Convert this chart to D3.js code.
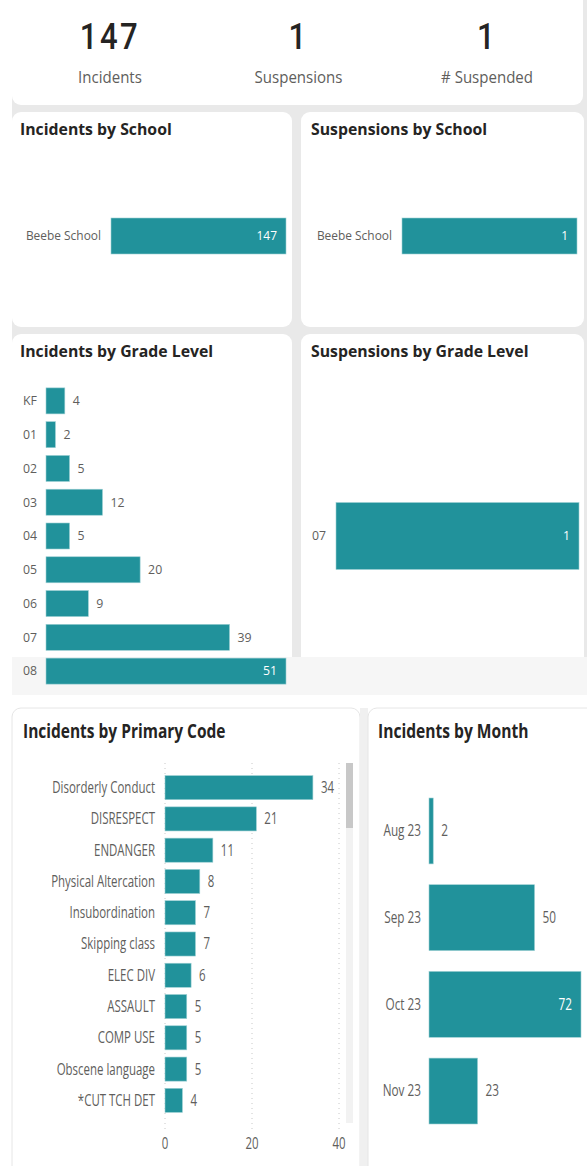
<!DOCTYPE html>
<html>
<head>
<meta charset="utf-8">
<script src="https://cdn.jsdelivr.net/npm/d3@7"></script>
<style>
  body { margin: 0; background: #fff; }
  svg { display: block; }
</style>
</head>
<body>
<svg id="dash" width="587" height="1166"></svg>
<script>
// values
const kpiLabels = ["Incidents", "Suspensions", "# Suspended"];
const kpiValues = [147, 1, 1];

const schools = ["Beebe School"];
const incidentsBySchool = [147];
const suspensionsBySchool = [1];

const grades = ["KF", "01", "02", "03", "04", "05", "06", "07", "08"];
const incidentsByGrade = [4, 2, 5, 12, 5, 20, 9, 39, 51];
const suspGrades = ["07"];
const suspensionsByGrade = [1];

const primaryCodes = ["Disorderly Conduct", "DISRESPECT", "ENDANGER", "Physical Altercation",
  "Insubordination", "Skipping class", "ELEC DIV", "ASSAULT", "COMP USE",
  "Obscene language", "*CUT TCH DET"];
const incidentsByCode = [34, 21, 11, 8, 7, 7, 6, 5, 5, 5, 4];
const codeTicks = [0, 20, 40];

const months = ["Aug 23", "Sep 23", "Oct 23", "Nov 23"];
const incidentsByMonth = [2, 50, 72, 23];

const TEAL = "#21929b";
const TITLE = "#252423";
const LABEL = "#605e5c";
const FONT = "'Open Sans', 'Noto Sans', sans-serif";

const svg = d3.select("#dash");

// ---- backgrounds / cards ----
svg.append("rect").attr("x", 12).attr("y", 0).attr("width", 575).attr("height", 695).attr("fill", "#e9e9e9");

function card(x, y, w, h, stroke) {
  svg.append("rect")
    .attr("x", x).attr("y", y).attr("width", w).attr("height", h)
    .attr("rx", 9).attr("fill", "#fff")
    .attr("stroke", stroke || "none");
}
card(12, -20, 571, 125);
card(12, 112, 280, 215);
card(301, 112, 283, 215);
card(12, 334, 280, 380);
card(301, 334, 283, 380);

// ---- KPI row ----
const kpiX = d3.scalePoint().domain(kpiLabels).range([110, 487]);
const kpi = svg.append("g").selectAll("g").data(kpiLabels).join("g")
  .attr("transform", d => `translate(${kpiX(d)},0)`);
kpi.append("text")
  .attr("transform", "translate(0,49) scale(0.84,1)")
  .attr("text-anchor", "middle")
  .attr("font-family", "Roboto, sans-serif").attr("font-weight", 500)
  .attr("font-size", 37).attr("letter-spacing", 3).attr("fill", TITLE)
  .text((d, i) => kpiValues[i]);
kpi.append("text")
  .attr("transform", "translate(0,83) scale(0.94,1)")
  .attr("text-anchor", "middle")
  .attr("font-family", FONT).attr("font-size", 16).attr("fill", LABEL)
  .text(d => d);

// ---- generic horizontal bar chart ----
function hbar(opt) {
  const g = svg.append("g");
  const sx = opt.sx || 1;
  const place = (sel, x, y, s) => sel.attr("transform", (d, i) =>
    `translate(${typeof x === "function" ? x(d, i) : x},${typeof y === "function" ? y(d, i) : y}) scale(${s},1)`);
  const txt = (sel, x, y) => place(sel, x, y, sx);

  g.append("text")
    .call(place, opt.titleX, opt.titleY, opt.titleSx || 1)
    .attr("font-family", FONT).attr("font-weight", 700)
    .attr("font-size", opt.titleSize).attr("fill", TITLE)
    .text(opt.title);

  const x = d3.scaleLinear().domain([0, opt.max]).range([opt.x0, opt.x1]);
  const y = d3.scaleBand().domain(opt.cats).range([opt.y0, opt.y1])
    .paddingInner(opt.pi).paddingOuter(opt.po);

  if (opt.ticks) {
    g.selectAll("line.grid").data(opt.ticks).join("line")
      .attr("x1", d => x(d)).attr("x2", d => x(d))
      .attr("y1", opt.gridTop).attr("y2", opt.gridBottom)
      .attr("stroke", "#c8c8c8").attr("stroke-dasharray", "1,4");
    g.selectAll("text.tick").data(opt.ticks).join("text")
      .call(txt, d => x(d), opt.tickY)
      .attr("text-anchor", "middle")
      .attr("font-family", FONT).attr("font-size", opt.fontSize)
      .attr("fill", LABEL).text(d => d);
  }

  if (opt.band) {
    g.append("rect").attr("x", 12).attr("width", opt.band.w)
      .attr("y", opt.band.y).attr("height", opt.band.h).attr("fill", "#f6f6f6");
  }

  g.selectAll("rect.bar").data(opt.vals).join("rect")
    .attr("x", opt.x0).attr("y", (d, i) => y(opt.cats[i]))
    .attr("width", d => x(d) - opt.x0).attr("height", y.bandwidth())
    .attr("fill", TEAL).attr("stroke", "#9ccfd3").attr("stroke-width", 0.6);

  g.selectAll("text.cat").data(opt.cats).join("text")
    .call(txt, opt.labelX, d => y(d) + y.bandwidth() / 2 + opt.fontSize * 0.35)
    .attr("text-anchor", opt.labelAnchor)
    .attr("font-family", FONT).attr("font-size", opt.fontSize)
    .attr("fill", LABEL).text(d => d);

  // labels go inside the bar (white) only when the bar fills the axis
  g.selectAll("text.val").data(opt.vals).join("text")
    .call(txt, d => d >= opt.max ? x(d) - 9 : x(d) + 8,
      (d, i) => y(opt.cats[i]) + y.bandwidth() / 2 + opt.fontSize * 0.35)
    .attr("text-anchor", d => d >= opt.max ? "end" : "start")
    .attr("font-family", FONT).attr("font-size", opt.fontSize)
    .attr("fill", d => d >= opt.max ? "#fff" : LABEL)
    .text(d => d);
}

hbar({
  title: "Incidents by School", titleX: 20, titleY: 135, titleSize: 15.8,
  cats: schools, vals: incidentsBySchool, max: 147,
  x0: 111, x1: 286, y0: 200, y1: 272, pi: 0, po: 0.5,
  labelX: 101, labelAnchor: "end", fontSize: 12.3, sx: 0.97
});
hbar({
  title: "Suspensions by School", titleX: 311, titleY: 135, titleSize: 15.8,
  cats: schools, vals: suspensionsBySchool, max: 1,
  x0: 402, x1: 577, y0: 200, y1: 272, pi: 0, po: 0.5,
  labelX: 392, labelAnchor: "end", fontSize: 12.3, sx: 0.97
});
hbar({
  title: "Incidents by Grade Level", titleX: 20, titleY: 357, titleSize: 15.8,
  cats: grades, vals: incidentsByGrade, max: 51,
  x0: 46, x1: 286, y0: 384, y1: 688, pi: 0.23, po: 0.115,
  labelX: 23, labelAnchor: "start", fontSize: 12.3,
  band: { y: 657, h: 38, w: 575 }
});
hbar({
  title: "Suspensions by Grade Level", titleX: 311, titleY: 357, titleSize: 15.8,
  cats: suspGrades, vals: suspensionsByGrade, max: 1,
  x0: 336, x1: 579, y0: 384, y1: 688, pi: 0, po: 1.77,
  labelX: 312, labelAnchor: "start", fontSize: 12.3
});

// ---- bottom section ----
svg.append("rect").attr("x", 0).attr("y", 695).attr("width", 587).attr("height", 471).attr("fill", "#fff");
card(12, 708, 348, 480, "#e6e6e6");
svg.append("rect").attr("x", 360).attr("y", 708).attr("width", 8).attr("height", 458).attr("fill", "#f0f0f0");
card(368, 708, 240, 480, "#e6e6e6");

// scrollbar
svg.append("rect").attr("x", 346).attr("y", 763).attr("width", 7).attr("height", 360).attr("fill", "#f2f2f2");
svg.append("rect").attr("x", 346).attr("y", 763).attr("width", 7).attr("height", 65).attr("fill", "#c8c8c8");

hbar({
  title: "Incidents by Primary Code", titleX: 23, titleY: 738, titleSize: 20, titleSx: 0.775,
  cats: primaryCodes, vals: incidentsByCode, max: 40,
  x0: 165, x1: 339, y0: 772, y1: 1116, pi: 0.23, po: 0.115,
  labelX: 155, labelAnchor: "end", fontSize: 15.5, sx: 0.74,
  ticks: codeTicks, gridTop: 763, gridBottom: 1130, tickY: 1149
});
hbar({
  title: "Incidents by Month", titleX: 378, titleY: 738, titleSize: 20, titleSx: 0.78,
  cats: months, vals: incidentsByMonth, max: 72,
  x0: 429, x1: 581, y0: 787.6, y1: 1134.4, pi: 0.24, po: 0.12,
  labelX: 421, labelAnchor: "end", fontSize: 15.5, sx: 0.76
});
</script>
</body>
</html>
